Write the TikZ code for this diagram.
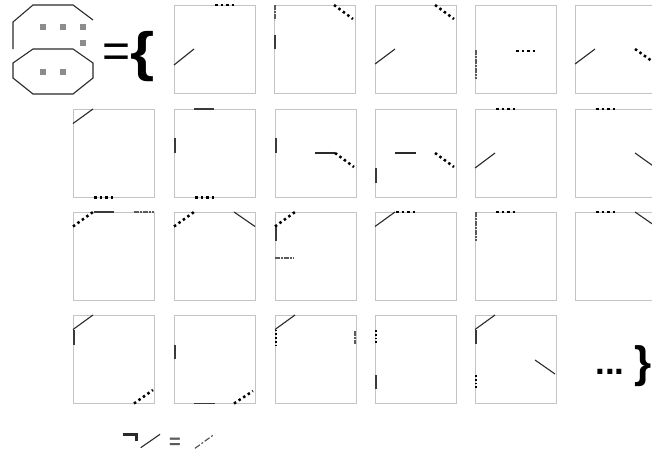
\documentclass[tikz,border=0pt]{standalone}
\usepackage{fontspec}
\setmainfont{Liberation Sans}
\definecolor{framegray}{HTML}{C4C4C4}
\definecolor{segdark}{HTML}{2A2A2A}
\definecolor{edgedark}{HTML}{3A3A3A}
\definecolor{sqgray}{HTML}{8C8C8C}
\definecolor{ddgray}{HTML}{5A5A5A}
\tikzset{
  obox/.style={draw=framegray,line width=0.9pt,minimum width=81pt,minimum height=88.5pt,
    anchor=north west,inner sep=0pt,outer sep=0pt},
  sseg/.style={draw=segdark,line width=1.1pt},
  eseg/.style={draw=edgedark,line width=1.9pt},
  dseg/.style={draw=black,line width=2.5pt,dash pattern=on 2.5pt off 3pt},
  vdseg/.style={draw=black,line width=2.6pt,dash pattern=on 1.8pt off 2pt},
  ddseg/.style={draw=ddgray,line width=2pt,dash pattern=on 5pt off 1pt on 2pt off 1pt},
  symline/.style={draw=segdark,line width=1.1pt,line join=miter},
  sq/.style={fill=sqgray,minimum size=6pt,inner sep=0pt,outer sep=0pt},
  bigtext/.style={inner sep=0pt,outer sep=0pt,text=black},
}
\newcommand\obox[4]{%
  \node[obox] (#1) at (#2,#3) {};
  \begin{scope}[shift={(#1.north west)}]#4\end{scope}}
\begin{document}
\begin{tikzpicture}[x=1pt,y=-1pt]
\useasboundingbox (0,0) rectangle (652,455);
\fill[white] (0,0) rectangle (652,455);

% symbol on the left
\draw[symline] (13,49) -- (13,22) -- (33,5) -- (73,5) -- (93,20);
\draw[symline] (33,49) -- (73,49) -- (93,63) -- (93,78) -- (73,94) -- (33,94) -- (13,78) -- (13,63) -- cycle;
\node[sq] (q1) at (43,27) {};
\node[sq] (q2) at (63,27) {};
\node[sq] (q3) at (83,27) {};
\node[sq] (q4) at (83,43) {};
\node[sq] (q5) at (43,72) {};
\node[sq] (q6) at (63,72) {};
\node[bigtext,font=\fontsize{48}{48}\selectfont,anchor=base] (eqsign) at (116.5,67) {=};
\node[bigtext,font=\bfseries\fontsize{54}{54}\selectfont,xscale=1.15] (lbrace) at (143,57) {\{};

\begin{scope}
\clip (0,0) rectangle (652,455);
% row 1
\obox{r1c1}{174}{5}{\draw[dseg] (41,0) -- (61,0); \draw[sseg] (0,60) -- (20,44);}
\obox{r1c2}{274}{5}{\draw[ddseg] (1,0) -- (1,15); \draw[eseg] (1,30) -- (1,44); \draw[dseg] (60,0) -- (79,14);}
\obox{r1c3}{375}{5}{\draw[dseg] (60,0) -- (79,14); \draw[sseg] (0,59) -- (20,44);}
\obox{r1c4}{475}{5}{\draw[ddseg] (1,45) -- (1,74); \draw[dseg] (41,46) -- (61,46);}
\obox{r1c5}{575}{5}{\draw[sseg] (0,59) -- (20,44); \draw[dseg] (60,44) -- (81,59);}

% row 2
\obox{r2c0}{73}{109}{\draw[sseg] (0,14.5) -- (20,0); \draw[dseg] (21,88.5) -- (41,88.5);}
\obox{r2c1}{174}{109}{\draw[eseg] (20,0) -- (40,0); \draw[eseg] (1,29) -- (1,44); \draw[dseg] (21,88.5) -- (41,88.5);}
\obox{r2c2}{275}{109}{\draw[eseg] (1,29) -- (1,44); \draw[sseg] (40,44) -- (60,44); \draw[dseg] (60,44) -- (79,58);}
\obox{r2c3}{375}{109}{\draw[eseg] (1,59) -- (1,74); \draw[sseg] (20,44) -- (41,44); \draw[dseg] (60,44) -- (79,58);}
\obox{r2c4}{475}{109}{\draw[dseg] (21,0) -- (41,0); \draw[sseg] (0,59) -- (20,44);}
\obox{r2c5}{575}{109}{\draw[dseg] (21,0) -- (41,0); \draw[sseg] (60,44) -- (81,59);}

% row 3
\obox{r3c0}{73}{212}{\draw[dseg] (0,14.5) -- (20,0); \draw[eseg] (21,0) -- (41,0); \draw[ddseg] (61,0) -- (81,0);}
\obox{r3c1}{174}{212}{\draw[dseg] (0,14.5) -- (20,0); \draw[sseg] (60,0) -- (81,14.5);}
\obox{r3c2}{275}{212}{\draw[dseg] (0,14.5) -- (20,0); \draw[eseg] (1,14.5) -- (1,29); \draw[ddseg] (0,45.5) -- (19,45.5);}
\obox{r3c3}{375}{212}{\draw[sseg] (0,14.5) -- (20,0); \draw[dseg] (21,0) -- (41,0);}
\obox{r3c4}{475}{212}{\draw[ddseg] (1,0) -- (1,29); \draw[dseg] (21,0) -- (41,0);}
\obox{r3c5}{575}{212}{\draw[dseg] (21,0) -- (41,0); \draw[sseg] (60,0) -- (81,14.5);}

% row 4
\obox{r4c0}{73}{315}{\draw[sseg] (0,14.5) -- (20,0); \draw[eseg] (1,14.5) -- (1,30); \draw[dseg] (61,88.5) -- (80,75);}
\obox{r4c1}{174}{315}{\draw[eseg] (1,30) -- (1,44); \draw[eseg] (20,88.5) -- (41,88.5); \draw[dseg] (60,88.5) -- (79,76);}
\obox{r4c2}{275}{315}{\draw[sseg] (0,14.5) -- (20,0); \draw[vdseg] (1,14.5) -- (1,30); \draw[ddseg] (80,16) -- (80,29);}
\obox{r4c3}{375}{315}{\draw[vdseg] (1,15) -- (1,29); \draw[eseg] (1,60) -- (1,74);}
\obox{r4c4}{475}{315}{\draw[sseg] (0,14.5) -- (20,0); \draw[eseg] (1,14.5) -- (1,29); \draw[vdseg] (1,60) -- (1,74); \draw[sseg] (60,45) -- (80,59);}
\end{scope}

\node[bigtext,font=\bfseries\fontsize{35}{35}\selectfont,anchor=base] (more) at (610,374.5) {...};
\node[bigtext,font=\bfseries\fontsize{44}{44}\selectfont,anchor=east] (rbrace) at (651.5,366.5) {\}};

% legend
\coordinate (la) at (122.7,434.3);
\coordinate (lb) at (136.7,434.3);
\coordinate (lc) at (136.7,441);
\coordinate (ld) at (140.7,447.7);
\coordinate (le) at (160,434.3);
\coordinate (lf) at (195,448.3);
\coordinate (lg) at (214.3,434.3);
\draw[segdark,line width=2.6pt,line join=miter] (la) -- (lb) -- (lc);
\draw[sseg] (ld) -- (le);
\node[bigtext,font=\bfseries\fontsize{20}{20}\selectfont,anchor=base,text=ddgray] (leq) at (175,448.6) {=};
\draw[ddseg,line width=1.2pt,dash pattern=on 6pt off 2pt on 2pt off 2pt] (lf) -- (lg);
\end{tikzpicture}
\end{document}
